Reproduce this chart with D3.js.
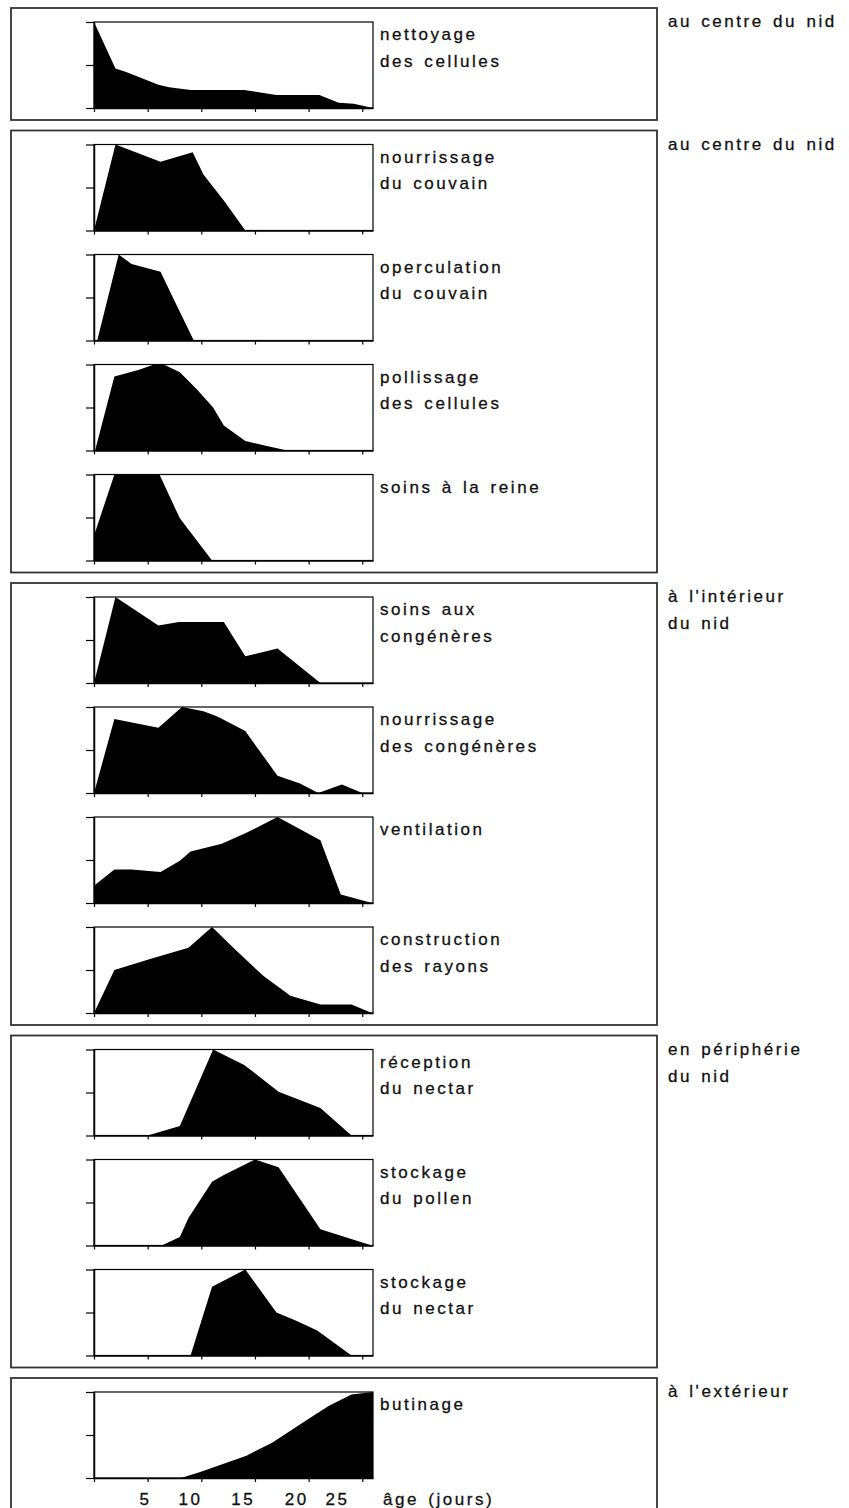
<!DOCTYPE html>
<html>
<head>
<meta charset="utf-8">
<script src="https://cdn.jsdelivr.net/npm/d3@7"></script>
<style>
  body { margin: 0; background: #fff; }
  text { font-family: "Liberation Sans", Arial, sans-serif; font-size: 17px; letter-spacing: 2.55px; word-spacing: 2px; fill: #111; stroke: #111; stroke-width: 0.3px; }
</style>
</head>
<body>
<div id="chart"></div>
<script>
// Task names, two lines each
var tasks = [
  ["nettoyage", "des cellules"],
  ["nourrissage", "du couvain"],
  ["operculation", "du couvain"],
  ["pollissage", "des cellules"],
  ["soins à la reine"],
  ["soins aux", "congénères"],
  ["nourrissage", "des congénères"],
  ["ventilation"],
  ["construction", "des rayons"],
  ["réception", "du nectar"],
  ["stockage", "du pollen"],
  ["stockage", "du nectar"],
  ["butinage"]
];

// Where in the nest, and which zone each task belongs to
var zones = [
  ["au centre du nid"],
  ["au centre du nid"],
  ["à l'intérieur", "du nid"],
  ["en périphérie", "du nid"],
  ["à l'extérieur"]
];
var zoneOfTask = [0, 1, 1, 1, 1, 2, 2, 2, 2, 3, 3, 3, 4];

// Activity curves: [age in days, relative frequency]
var nettoyage = [[0, 1], [2, 0.46], [3, 0.42], [5, 0.32], [6, 0.27], [7, 0.24], [9, 0.21], [14, 0.21], [17, 0.15], [21, 0.15], [22.8, 0.06], [24.2, 0.05], [26, 0]];
var nourrissageCouvain = [[0, 0], [2, 1], [6.2, 0.8], [9.2, 0.91], [10.2, 0.65], [12.2, 0.33], [14.1, 0]];
var operculation = [[0.3, 0], [2.3, 1], [3.5, 0.89], [6.2, 0.8], [7.7, 0.41], [9.3, 0]];
var pollissage = [[0.1, 0], [1.9, 0.86], [4.2, 0.94], [5.6, 1], [6.5, 1], [8, 0.91], [9.6, 0.71], [11.1, 0.5], [12.1, 0.29], [14.1, 0.11], [15.8, 0.06], [18, 0]];
var soinsReine = [[0, 0.29], [1.9, 1], [6.1, 1], [8, 0.49], [11, 0]];
var soinsCongeneres = [[0, 0], [2, 1], [6, 0.67], [7.9, 0.71], [12.1, 0.71], [14.1, 0.31], [17.1, 0.4], [21.1, 0]];
var nourrissageCongeneres = [[0, 0], [1.9, 0.86], [6, 0.76], [8.2, 1], [10.2, 0.95], [11.5, 0.89], [14.1, 0.72], [17.1, 0.2], [19.2, 0.11], [20.9, 0], [23.1, 0.1], [25, 0]];
var ventilation = [[0, 0.2], [1.9, 0.39], [3.5, 0.39], [6.2, 0.36], [8, 0.49], [9, 0.6], [11.9, 0.69], [14.1, 0.81], [17.1, 1], [21.1, 0.73], [23, 0.1], [25.9, 0]];
var construction = [[0, 0], [1.9, 0.5], [5.3, 0.63], [8.8, 0.76], [11, 1], [13.3, 0.72], [15.8, 0.43], [18.3, 0.2], [21.1, 0.1], [24, 0.1], [25.9, 0]];
var receptionNectar = [[0, 0], [5, 0], [8, 0.11], [11.1, 1], [14, 0.82], [17.2, 0.51], [21.1, 0.32], [24, 0]];
var stockagePollen = [[0, 0], [6.3, 0], [8, 0.1], [8.8, 0.32], [11, 0.74], [12.1, 0.82], [15, 1], [17.2, 0.91], [21.1, 0.19], [25.9, 0]];
var stockageNectar = [[0, 0], [9, 0], [11, 0.8], [14.1, 1], [17, 0.5], [18.9, 0.4], [20.8, 0.29], [24, 0]];
var butinage = [[0, 0], [8.1, 0], [9.9, 0.07], [14.2, 0.26], [16.6, 0.41], [19.9, 0.68], [21.9, 0.84], [24, 0.97], [26, 1]];

var curves = [nettoyage, nourrissageCouvain, operculation, pollissage, soinsReine,
  soinsCongeneres, nourrissageCongeneres, ventilation, construction,
  receptionNectar, stockagePollen, stockageNectar, butinage];

// Axis ticks and labels
var dayTicks = [0, 5, 10, 15, 20, 25];
var dayLabels = ["5", "10", "15", "20", "25"];
var dayLabelAt = [4.8, 9, 13.9, 18.9, 22.7];
var levelTicks = [0, 0.5, 1];
var axisTitle = "âge (jours)";

// Layout
var width = 849, height = 1508;
var plotLeft = 94, plotRight = 373, plotHeight = 86;
var firstTop = 22, pitch = 110, zoneGap = 12.5;
var boxLeft = 11, boxRight = 657;

var svg = d3.select("#chart")
  .append("svg")
  .attr("width", width)
  .attr("height", height);

var x = d3.scaleLinear()
  .domain([0, 26])
  .range([plotLeft, plotRight]);

var y = d3.scaleLinear()
  .domain([0, 1])
  .range([plotHeight, 0]);

function panelTop(i) {
  return firstTop + i * pitch + zoneOfTask[i] * zoneGap;
}

// Zone boxes and their names
zones.forEach(function(zone, z) {
  var members = d3.range(tasks.length).filter(function(i) { return zoneOfTask[i] === z; });
  var top = panelTop(members[0]) - 14;
  var bottom = z === zones.length - 1 ? height + 10 : panelTop(members[members.length - 1]) + plotHeight + 12;

  svg.append("rect")
    .attr("x", boxLeft)
    .attr("y", top)
    .attr("width", boxRight - boxLeft)
    .attr("height", bottom - top)
    .attr("fill", "none")
    .attr("stroke", "#333")
    .attr("stroke-width", 1.8);

  zone.forEach(function(line, k) {
    svg.append("text")
      .attr("x", 668)
      .attr("y", top + 19 + k * 27)
      .text(line);
  });
});

var area = d3.area()
  .x(function(d) { return x(d[0]); })
  .y0(y(0))
  .y1(function(d) { return y(d[1]); });

tasks.forEach(function(task, i) {
  var g = svg.append("g")
    .attr("transform", "translate(0," + panelTop(i) + ")");

  g.append("path")
    .datum(curves[i])
    .attr("d", area)
    .attr("fill", "#000");

  g.append("rect")
    .attr("x", plotLeft)
    .attr("y", 0)
    .attr("width", plotRight - plotLeft)
    .attr("height", plotHeight)
    .attr("fill", "none")
    .attr("stroke", "#000")
    .attr("stroke-width", 1.2);

  g.append("g")
    .attr("transform", "translate(" + plotLeft + ",0)")
    .call(d3.axisLeft(y).tickValues(levelTicks).tickSize(8).tickSizeOuter(0).tickFormat(""))
    .call(function(a) { a.select(".domain").attr("stroke-width", 1.5); a.selectAll(".tick line").attr("stroke-width", 1.2); });

  g.append("g")
    .attr("transform", "translate(0," + plotHeight + ")")
    .call(d3.axisBottom(x).tickValues(dayTicks).tickSize(4).tickSizeOuter(0).tickFormat(""))
    .call(function(a) { a.select(".domain").attr("stroke-width", 1.5); a.selectAll(".tick line").attr("stroke-width", 1.2); });

  task.forEach(function(line, k) {
    g.append("text")
      .attr("x", plotRight + 7)
      .attr("y", 18 + k * 26.5)
      .text(line);
  });

  // Age labels under the last panel
  if (i === tasks.length - 1) {
    g.selectAll(".dayLabel")
      .data(dayLabels)
      .enter()
      .append("text")
      .attr("class", "dayLabel")
      .attr("x", function(d, k) { return x(dayLabelAt[k]); })
      .attr("y", plotHeight + 27)
      .attr("text-anchor", "middle")
      .text(function(d) { return d; });

    g.append("text")
      .attr("x", plotRight + 10)
      .attr("y", plotHeight + 27)
      .text(axisTitle);
  }
});
</script>
</body>
</html>
